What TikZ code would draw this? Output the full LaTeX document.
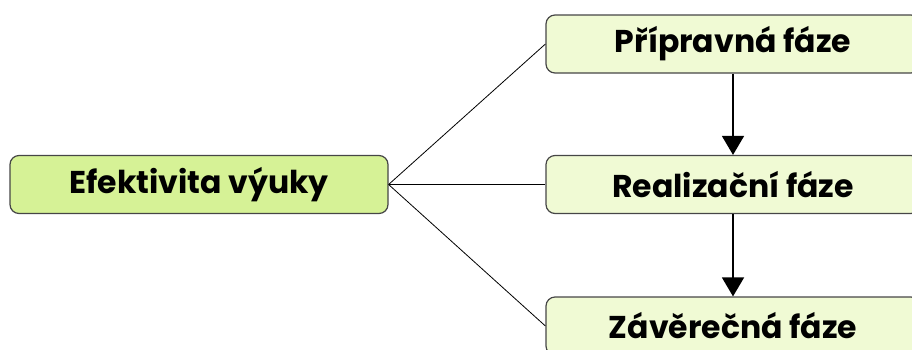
\documentclass[tikz,border=0pt]{standalone}
\usepackage{fontspec}
\setmainfont{Poppins}
\usetikzlibrary{arrows.meta}
\definecolor{rootgreen}{RGB}{214,242,150}
\definecolor{phasegreen}{RGB}{240,250,212}
\definecolor{boxline}{RGB}{70,70,70}
\begin{document}
\begin{tikzpicture}
	[	x=1pt,y=-1pt,
	root/.style={rectangle,rounded corners=9pt,draw=boxline,line width=1.2pt,fill=rootgreen,minimum width=378pt,minimum height=58pt,font=\fontsize{31.5}{33}\selectfont\bfseries},
	phase/.style={root,fill=phasegreen,minimum width=374pt},
	link/.style={draw=black,line width=0.8pt},
	next/.style={draw=black,line width=1.6pt,-{Triangle[length=19pt,width=22pt]}}
	]
	\useasboundingbox (0,0) rectangle (912,349);
	\clip (0,0) rectangle (912,349);
	\node[root] (efekt) at (199,184.5){Efektivita výuky};

	\node[phase] (prip) at (733,44){Přípravná fáze};
	\node[phase] (real) at (733,184.5){Realizační fáze};
	\node[phase] (zaver) at (733,326){Závěrečná fáze};

\draw[link] (efekt.east) -- (prip.west);
\draw[link] (efekt.east) -- (real.west);
\draw[link] (efekt.east) -- (zaver.west);
	\draw[next] (prip.south) -- (real.north);
	\draw[next] (real.south) -- (zaver.north);
\end{tikzpicture}
\end{document}
